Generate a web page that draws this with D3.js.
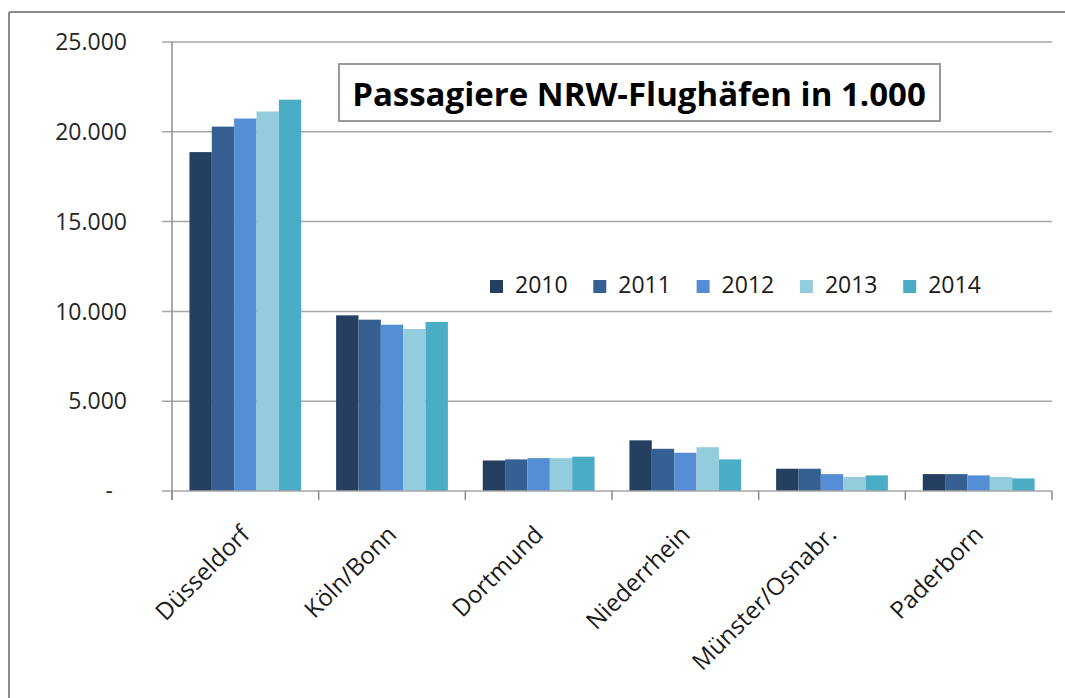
<!DOCTYPE html>
<html>
<head>
<meta charset="utf-8">
<script src="https://cdn.jsdelivr.net/npm/d3@7"></script>
<style>
  body { margin: 0; background: #fff; }
  svg { display: block; font-family: "Open Sans", sans-serif; }
</style>
</head>
<body>
<svg id="viz" width="1065" height="698"></svg>
<script>
// Data (passengers in 1.000)

var airports = ["Düsseldorf", "Köln/Bonn", "Dortmund", "Niederrhein", "Münster/Osnabr.", "Paderborn"];
var years = ["2010", "2011", "2012", "2013", "2014"];

var v2010 = [18870, 9780, 1700, 2820, 1240, 940];
var v2011 = [20290, 9540, 1760, 2350, 1240, 940];
var v2012 = [20740, 9260, 1830, 2130, 940, 870];
var v2013 = [21130, 9020, 1830, 2440, 780, 780];
var v2014 = [21790, 9410, 1910, 1760, 870, 700];

var yTicks = [0, 5000, 10000, 15000, 20000, 25000];
var colours = ["#253f60", "#366092", "#558ed5", "#93cddd", "#4bacc6"];

var series = [v2010, v2011, v2012, v2013, v2014];

var svg = d3.select("svg");

// outer frame (only top and left visible)
svg.append("line").attr("x1", 9).attr("x2", 1065).attr("y1", 12).attr("y2", 12)
    .attr("stroke", "#8a8a8a").attr("stroke-width", 2);
svg.append("line").attr("x1", 9).attr("x2", 9).attr("y1", 12).attr("y2", 698)
    .attr("stroke", "#8a8a8a").attr("stroke-width", 2);

var plotLeft = 172, plotRight = 1052, plotTop = 42, plotBottom = 491;

var x0 = d3.scaleBand().domain(airports).range([plotLeft, plotRight]).padding(0);
var x1 = d3.scaleBand().domain(years).range([0, x0.bandwidth()]).paddingOuter(0.78).paddingInner(0);
var y = d3.scaleLinear().domain([0, 25000]).range([plotBottom, plotTop]);

var de = d3.formatLocale({ decimal: ",", thousands: ".", grouping: [3], currency: ["", " €"] });
var fmt = de.format(",.0f");

// gridlines
var g = svg.append("g");
g.selectAll("line.grid")
  .data(yTicks.filter(d => d > 0))
  .enter().append("line")
    .attr("class", "grid")
    .attr("x1", plotLeft - 10).attr("x2", plotRight)
    .attr("y1", d => y(d)).attr("y2", d => y(d))
    .attr("stroke", "#a6a6a6").attr("stroke-width", 1.5);

// y labels
g.selectAll("text.ylab")
  .data(yTicks)
  .enter().append("text")
    .attr("class", "ylab")
    .attr("x", d => d == 0 ? 113 : 127)
    .attr("y", d => y(d))
    .attr("dy", "0.36em")
    .attr("text-anchor", "end")
    .attr("font-size", 23)
    .attr("fill", "#262626")
    .text(d => d == 0 ? "-" : fmt(d));

// bars
var groups = g.selectAll("g.cat")
  .data(airports)
  .enter().append("g")
    .attr("transform", d => "translate(" + x0(d) + ",0)");

groups.selectAll("rect")
  .data((d, i) => years.map((yr, j) => ({ year: yr, value: series[j][i], k: j })))
  .enter().append("rect")
    .attr("x", d => x1(d.year))
    .attr("width", x1.bandwidth())
    .attr("y", d => y(d.value))
    .attr("height", d => y(0) - y(d.value))
    .attr("fill", d => colours[d.k]);

// axes lines
g.append("line").attr("x1", plotLeft).attr("x2", plotLeft).attr("y1", plotTop).attr("y2", plotBottom + 9)
    .attr("stroke", "#8c8c8c").attr("stroke-width", 1.5);
g.append("line").attr("x1", plotLeft - 10).attr("x2", plotRight).attr("y1", plotBottom).attr("y2", plotBottom)
    .attr("stroke", "#a6a6a6").attr("stroke-width", 1.5);

// category ticks
var bounds = airports.map(d => x0(d)).concat([plotRight]);
g.selectAll("line.xtick")
  .data(bounds)
  .enter().append("line")
    .attr("x1", d => d).attr("x2", d => d)
    .attr("y1", plotBottom).attr("y2", plotBottom + 9)
    .attr("stroke", "#8c8c8c").attr("stroke-width", 1.5);

// x labels
g.selectAll("text.xlab")
  .data(airports)
  .enter().append("text")
    .attr("class", "xlab")
    .attr("text-anchor", "end")
    .attr("font-size", 24)
    .attr("fill", "#1a1a1a")
    .attr("transform", d => "translate(" + (x0(d) + x0.bandwidth() / 2 + 6) + "," + (plotBottom + 45) + ") rotate(-45)")
    .text(d => d);

// legend
var legend = g.append("g").attr("transform", "translate(490,280)");
var item = legend.selectAll("g")
  .data(years)
  .enter().append("g")
    .attr("transform", (d, i) => "translate(" + (i * 103.3) + ",0)");
item.append("rect")
    .attr("width", 13).attr("height", 13)
    .attr("fill", (d, i) => colours[i]);
item.append("text")
    .attr("x", 25).attr("y", 13)
    .attr("font-size", 23)
    .attr("fill", "#1a1a1a")
    .text(d => d);

// title box
svg.append("rect")
    .attr("x", 339).attr("y", 64).attr("width", 601).attr("height", 57)
    .attr("fill", "#fff").attr("stroke", "#9a9a9a").attr("stroke-width", 2);
svg.append("text")
    .attr("x", 639).attr("y", 106)
    .attr("text-anchor", "middle")
    .attr("font-size", 33)
    .attr("font-weight", "bold")
    .attr("fill", "#000")
    .text("Passagiere NRW-Flughäfen in 1.000");
</script>
</body>
</html>
